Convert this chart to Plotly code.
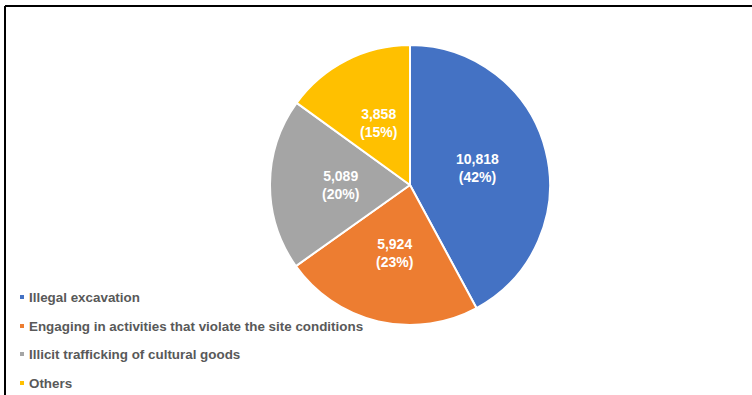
import math
import plotly.graph_objects as go

categories = ["Illegal excavation",
              "Engaging in activities that violate the site conditions",
              "Illicit trafficking of cultural goods",
              "Others"]
values = [10818, 5924, 5089, 3858]
colors = ["#4472C4", "#ED7D31", "#A5A5A5", "#FFC000"]

W, H = 752, 395
cx, cy, r = 410, 185, 140
FONT = "Liberation Sans, Arial"

fig = go.Figure(go.Pie(
    labels=categories, values=values, sort=False, direction="clockwise", rotation=0,
    marker=dict(colors=colors, line=dict(color="white", width=2)),
    textinfo="none",
    domain=dict(x=[(cx - r) / W, (cx + r) / W], y=[(H - cy - r) / H, (H - cy + r) / H]),
    showlegend=False, hoverinfo="label+value+percent",
))

shapes = [
    dict(type="line", xref="paper", yref="paper", x0=5 / W, x1=1, y0=1 - 6 / H, y1=1 - 6 / H,
         line=dict(color="black", width=2)),
    dict(type="line", xref="paper", yref="paper", x0=5 / W, x1=5 / W, y0=0, y1=1 - 6 / H,
         line=dict(color="black", width=2)),
]
annotations = []

# data labels at half radius along each slice's mid-angle (Excel best-fit style)
total = sum(values)
cum = 0
for v in values:
    mid = 2 * math.pi * (cum + v / 2) / total
    cum += v
    lx = cx + 0.5 * r * math.sin(mid)
    ly = cy - 0.5 * r * math.cos(mid)
    annotations.append(dict(text=f"{v:,}<br>({round(100 * v / total)}%)",
                            xref="paper", yref="paper", x=lx / W, y=1 - ly / H,
                            xanchor="center", yanchor="middle", showarrow=False, align="center",
                            font=dict(family=FONT, size=14, color="white", weight="bold")))

legend_y = [297, 326, 354, 383]
for cat, col, ly in zip(categories, colors, legend_y):
    shapes.append(dict(type="rect", xref="paper", yref="paper",
                       x0=20 / W, x1=24 / W, y0=1 - (ly + 2) / H, y1=1 - (ly - 2) / H,
                       fillcolor=col, line=dict(width=0)))
    annotations.append(dict(text=cat, xref="paper", yref="paper", x=27 / W, y=1 - ly / H,
                            xanchor="left", yanchor="middle", showarrow=False,
                            font=dict(family=FONT, size=13.4, color="#595959", weight="bold")))

fig.update_layout(width=W, height=H, margin=dict(l=0, r=0, t=0, b=0),
                  paper_bgcolor="white", plot_bgcolor="white",
                  shapes=shapes, annotations=annotations)
fig.write_html("out.html", config={"displayModeBar": False},
               post_script="document.body.style.margin='0';")
